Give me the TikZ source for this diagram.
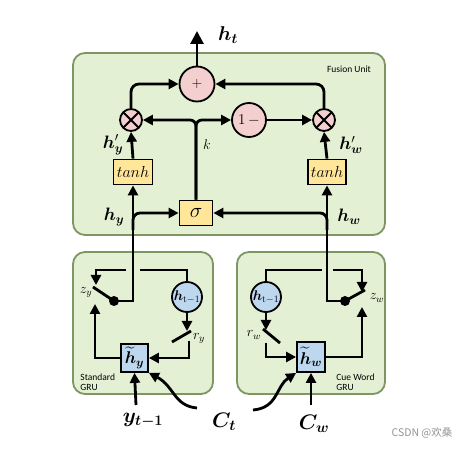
\RequirePackage{fix-cm}
\documentclass[tikz,border=0pt]{standalone}
\usepackage{amsmath,bm}
\usepackage{fontspec}
\newfontfamily\labfont{Carlito}
\newfontfamily\cjkfont{Noto Sans CJK SC}
\usetikzlibrary{arrows.meta}
\definecolor{grnfill}{HTML}{E3F0D4}
\definecolor{grnedge}{HTML}{7D9662}
\definecolor{pinkfill}{HTML}{F4CFCF}
\definecolor{bluefill}{HTML}{BDD7EE}
\definecolor{yelfill}{HTML}{FFE699}
\newcommand\setfs[1]{\fontsize{#1}{#1}\selectfont}
\begin{document}
\begin{tikzpicture}[x=1pt,y=-1pt,
  line width=2.8pt,
  arr/.style={-{Triangle[length=10pt,width=10pt]}},
  bigarr/.style={-{Triangle[length=13pt,width=13pt]}},
  grnbox/.style={draw=grnedge, fill=grnfill, line width=1.8pt, rounded corners=12pt, inner sep=0},
  pinkc/.style={circle, draw, fill=pinkfill, line width=1.8pt, inner sep=0},
  bluec/.style={circle, draw, fill=bluefill, line width=1.8pt, inner sep=0, minimum size=30pt},
  ybox/.style={draw, fill=yelfill, line width=1.8pt, inner sep=0},
  bbox/.style={draw, fill=bluefill, line width=1.8pt, inner sep=0},
  lab/.style={inner sep=0},
  sans/.style={inner sep=0, font=\labfont\setfs{9.5}, align=left},
  dotc/.style={circle, fill, inner sep=0, minimum size=10pt},
  mulc/.style={pinkc, minimum size=22pt,
    path picture={\draw[line width=1.8pt]
      (path picture bounding box.north west) -- (path picture bounding box.south east)
      (path picture bounding box.north east) -- (path picture bounding box.south west);}},
]
\useasboundingbox (0,0) rectangle (472,449);
\fill[white] (0,0) rectangle (472,449);

% containers
\node[grnbox, minimum width=312pt, minimum height=182pt] (fus) at (229,144) {};
\node[grnbox, minimum width=140pt, minimum height=142pt] (gruL) at (143,323) {};
\node[grnbox, minimum width=148pt, minimum height=142pt] (gruR) at (311,323) {};

\node[sans] (fuslab) at (349,69) {Fusion Unit};
\node[sans, anchor=west] (stdlab) at (79,382) {Standard\\GRU};
\node[sans, anchor=west] (cuelab) at (335,382) {Cue Word\\GRU};

% fusion unit nodes
\node[pinkc, minimum size=35pt, font=\setfs{14}] (plus) at (197,84) {$+$};
\node[mulc] (mulL) at (131,120) {};
\node[mulc] (mulR) at (324,120) {};
\node[pinkc, minimum size=34pt, font=\setfs{15}] (onem) at (249,120) {$1\,-$};
\node[ybox, minimum width=39pt, minimum height=25pt, font=\setfs{16}] (tanhL) at (133,172) {$tanh$};
\node[ybox, minimum width=38pt, minimum height=25pt, font=\setfs{16}] (tanhR) at (327,172) {$tanh$};
\node[ybox, minimum width=33pt, minimum height=25pt, font=\setfs{21}] (sig) at (196,213) {$\sigma$};

% GRU nodes
\node[bbox, minimum width=27pt, minimum height=28pt, font=\setfs{17}] (hL) at (134.5,358) {$\widetilde{\bm h}_{\bm y}$};
\node[bbox, minimum width=28pt, minimum height=30pt, font=\setfs{17}] (hR) at (311,357) {$\widetilde{\bm h}_{\bm w}$};
\node[bluec, font=\setfs{14}] (circL) at (187,297) {$\bm h_{\mathrm{t-1}}$};
\node[bluec, font=\setfs{14}] (circR) at (266,297) {$\bm h_{\mathrm{t-1}}$};
\node[dotc] (dotL) at (114,301) {};
\node[dotc] (dotR) at (345,301) {};

% labels
\node[lab, font=\setfs{20}] (htlab) at (228,35) {$\bm{h_t}$};
\node[lab, font=\setfs{18}] (hpy) at (113,145) {$\bm h'_{\bm y}$};
\node[lab, font=\setfs{18}] (hpw) at (351,145) {$\bm h'_{\bm w}$};
\node[lab, font=\setfs{14}] (klab) at (207,145) {$k$};
\node[lab, font=\setfs{18}] (hylab) at (114,217) {$\bm h_{\bm y}$};
\node[lab, font=\setfs{18}] (hwlab) at (349,217) {$\bm h_{\bm w}$};
\node[lab, font=\setfs{14}] (zylab) at (86,292) {$z_y$};
\node[lab, font=\setfs{14}] (rylab) at (199,338) {$r_y$};
\node[lab, font=\setfs{14}] (rwlab) at (254,335) {$r_w$};
\node[lab, font=\setfs{14}] (zwlab) at (377,298) {$z_w$};
\node[lab, font=\setfs{21}] (yin) at (143,420) {$\bm{y_{t-1}}$};
\node[lab, font=\setfs{21}] (ctlab) at (224,422) {$\bm{C_t}$};
\node[lab, font=\setfs{21}] (cwlab) at (314,424) {$\bm{C_w}$};
\node[lab, font=\cjkfont\setfs{10.5}, text=black!42] (wm) at (422,433) {CSDN @欢桑};

% coordinates
\coordinate (httip) at (197,31);
\coordinate (brL) at (133,230);
\coordinate (brR) at (327,230);
\coordinate (ysegA) at (126,270);
\coordinate (ysegB) at (140,270);
\coordinate (zytip) at (96,285);
\coordinate (zyarm) at (93,287);
\coordinate (rytip) at (187,331);
\coordinate (ryarmA) at (172,342);
\coordinate (ryarmB) at (191,331);
\coordinate (ryout) at (189,341);
\coordinate (zyup) at (95,304);
\coordinate (wsegA) at (322,270);
\coordinate (wsegB) at (333,270);
\coordinate (zwtip) at (362,292);
\coordinate (zwarm) at (365,290);
\coordinate (zwup) at (362,307);
\coordinate (rwtip) at (266,330);
\coordinate (rwarmA) at (263,329);
\coordinate (rwarmB) at (280,343);
\coordinate (rwout) at (266,343);
\coordinate (ctL) at (197,408);
\coordinate (ctR) at (253,410);
\coordinate (yst) at (136,405);
\coordinate (wst) at (311,405);

% fusion connectors
\draw[bigarr] (plus.north) -- (httip);
\draw[arr, rounded corners=8pt] (mulL.north) |- (plus.west);
\draw[arr, rounded corners=8pt] (mulR.north) |- (plus.east);
\draw[arr, rounded corners=6pt] (sig.north) |- (mulL.east);
\draw[arr, rounded corners=6pt] (sig.north) |- (onem.west);
\draw[arr] (onem.east) -- (mulR.west);
\draw[arr] (tanhL.north) -- (mulL.south);
\draw[arr] (tanhR.north) -- (mulR.south);
\draw[arr] (dotL.center) -| (tanhL.south);
\draw[arr] (dotR.center) -| (tanhR.south);
\draw[arr, rounded corners=7pt] (brL) |- (sig.west);
\draw[arr, rounded corners=7pt] (brR) |- (sig.east);

% left GRU
\draw[arr] (ysegA) -| (zytip);
\draw (ysegB) -| (circL.north);
\draw (dotL.center) -- (zyarm);
\draw[arr] (circL.south) -- (rytip);
\draw (ryarmA) -- (ryarmB);
\draw[arr] (ryout) |- (hL.east);
\draw[arr] (hL.west) -| (zyup);
\draw[arr] (yst) -- (hL.south);
\draw[arr] (ctL) .. controls (174,406) and (174,386) .. (hL.south east);

% right GRU
\draw (circR.north) |- (wsegA);
\draw[arr] (wsegB) -| (zwtip);
\draw (dotR.center) -- (zwarm);
\draw[arr] (hR.east) -| (zwup);
\draw[arr] (circR.south) -- (rwtip);
\draw (rwarmA) -- (rwarmB);
\draw[arr] (rwout) |- (hR.west);
\draw[arr] (wst) -- (hR.south);
\draw[arr] (ctR) .. controls (278,408) and (276,386) .. (hR.south west);
\end{tikzpicture}
\end{document}
